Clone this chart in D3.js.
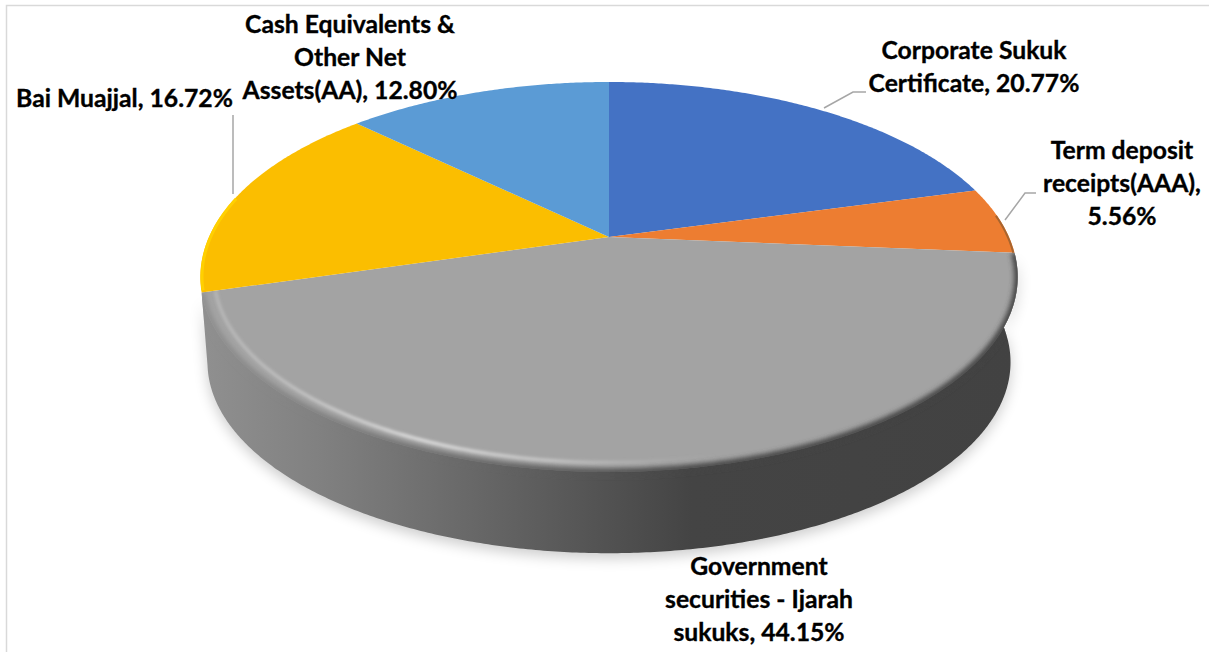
<!DOCTYPE html>
<html>
<head>
<meta charset="utf-8">
<script src="https://cdn.jsdelivr.net/npm/d3@7"></script>
<style>
  html, body { margin: 0; padding: 0; background: #fff; }
  svg { display: block; }
  text { font-family: Lato, "Open Sans", sans-serif; font-weight: 700; font-size: 24.7px; fill: #000; stroke: #000; stroke-width: 0.35px; }
</style>
</head>
<body>
<svg id="chart" width="1209" height="652"></svg>
<script>
// Portfolio allocation, clockwise from twelve o'clock.
const categories = [
  "Corporate Sukuk Certificate",
  "Term deposit receipts(AAA)",
  "Government securities - Ijarah sukuks",
  "Bai Muajjal",
  "Cash Equivalents & Other Net Assets(AA)"
];
const shares = [20.77, 5.56, 44.15, 16.72, 12.80];
const colours = ["#4472C4", "#ED7D31", "#A3A3A3", "#FBBE00", "#5B9BD5"];

// Label wrapping and placement; one entry per category.
const labelLines = [
  ["Corporate Sukuk", "Certificate, 20.77%"],
  ["Term deposit", "receipts(AAA),", "5.56%"],
  ["Government", "securities - Ijarah", "sukuks, 44.15%"],
  ["Bai Muajjal, 16.72%"],
  ["Cash Equivalents &", "Other Net", "Assets(AA), 12.80%"]
];
const labelCentres = [[974, 59], [1122, 159], [759, 575], [124.5, 107], [350, 33]];
const labelStep = 33;
const leaders = [
  [[824, 108], [853, 92], [866, 92]],
  [[1005, 220], [1025, 193], [1036, 193]],
  null,
  [[233, 115], [233, 194]],
  null
];

const svg = d3.select("#chart");
const defs = svg.append("defs");

// Perspective tilt of the disc: far points shrink, near points grow.
const tilt = 0.205;
const topFace = { cx: 609, cy: 237, a: 400, b: 186.8 };
const baseFace = { cx: 609, cy: 323, a: 393, b: 183 };

function project(face, angle, r = 1) {
  const u = r * Math.sin(angle), v = r * Math.cos(angle);
  const w = 1 + tilt * v;
  return [face.cx + face.a * u / w, face.cy - face.b * v / w];
}
function arcPoints(face, a0, a1, r = 1) {
  const n = Math.max(2, Math.ceil(Math.abs(a1 - a0) * 120));
  return d3.range(n + 1).map(i => project(face, a0 + (a1 - a0) * i / n, r));
}
const line = d3.line();

const pie = d3.pie().sort(null).value(d => d);
const slices = pie(shares);
const gov = slices[2];
const centre = [topFace.cx, topFace.cy];

// Gradients and soft filters for the raised rim.
function gradient(id, stops) {
  const g = defs.append("linearGradient").attr("id", id)
    .attr("gradientUnits", "userSpaceOnUse")
    .attr("x1", 200).attr("x2", 1020).attr("y1", 0).attr("y2", 0);
  stops.forEach(([o, c, a]) => g.append("stop")
    .attr("offset", o).attr("stop-color", c).attr("stop-opacity", a === undefined ? 1 : a));
}
gradient("wallFill", [[0, "#909090"], [0.15, "#808080"], [0.3, "#6c6c6c"], [0.45, "#585858"], [0.6, "#444444"], [1, "#424242"]]);
gradient("glowFill", [[0, "#d4d4d4", 0.35], [0.12, "#d8d8d8", 0.55], [0.27, "#dedede", 0.95], [0.43, "#d8d8d8", 0.6], [0.58, "#c8c8c8", 0.1], [0.63, "#c8c8c8", 0]]);
function blur(id, dev) {
  defs.append("filter").attr("id", id)
    .attr("x", "-10%").attr("y", "-10%").attr("width", "120%").attr("height", "130%")
    .append("feGaussianBlur").attr("stdDeviation", dev);
}
blur("softShadow", 7);
blur("softEdge", 2.4);
blur("softGlow", 1.8);

// Chart frame.
svg.append("path")
  .attr("d", line([[6.5, 652], [6.5, 5.5], [1209, 5.5]]))
  .attr("fill", "none").attr("stroke", "#d9d9d9").attr("stroke-width", 1.5);

// Side wall of the large slice: upper rim forward, base edge back.
const wallOutline = arcPoints(topFace, gov.startAngle, gov.endAngle)
  .concat(arcPoints(baseFace, gov.endAngle + 0.06, gov.startAngle - 0.06));
const wedgeOutline = [centre].concat(arcPoints(topFace, gov.startAngle, gov.endAngle));

const bevelClip = defs.append("clipPath").attr("id", "bevelClip");
bevelClip.append("path").attr("d", line(wallOutline) + "Z");
bevelClip.append("path").attr("d", line(wedgeOutline) + "Z");

svg.append("path")
  .attr("d", line(wallOutline) + "Z")
  .attr("fill", "#000").attr("opacity", 0.2)
  .attr("transform", "translate(0,5)")
  .attr("filter", "url(#softShadow)");

svg.append("path")
  .attr("d", line(wallOutline) + "Z")
  .attr("fill", "url(#wallFill)");

// Top faces of all slices, one wedge per value.
svg.append("g").selectAll("path")
  .data(slices)
  .join("path")
  .attr("d", d => line([centre].concat(arcPoints(topFace, d.startAngle, d.endAngle))) + "Z")
  .attr("fill", (d, i) => colours[i]);

// Bevel along the front of the large slice: the wall colour bleeds up
// over the edge, with a soft highlight just inside it.
const bevel = svg.append("g").attr("clip-path", "url(#bevelClip)");
bevel.append("g").attr("filter", "url(#softEdge)")
  .append("path")
  .attr("d", line(arcPoints(topFace, gov.startAngle, gov.endAngle, 1.0)))
  .attr("fill", "none")
  .attr("stroke", "url(#wallFill)")
  .attr("stroke-width", 7);
bevel.append("g").attr("filter", "url(#softGlow)")
  .append("path")
  .attr("d", line(arcPoints(topFace, gov.startAngle, gov.endAngle, 0.968)))
  .attr("fill", "none")
  .attr("stroke", "url(#glowFill)")
  .attr("stroke-width", 3.5);

// Thin coloured edges on the back slices.
svg.append("path")
  .attr("d", line(arcPoints(topFace, slices[3].startAngle + 0.01, slices[3].startAngle + 0.5, 0.996)))
  .attr("fill", "none").attr("stroke", "#FFD000").attr("stroke-width", 3);
svg.append("path")
  .attr("d", line(arcPoints(topFace, slices[1].endAngle - 0.2, slices[1].endAngle, 0.997)))
  .attr("fill", "none").attr("stroke", "#A8652F").attr("stroke-width", 2);

// Leader lines.
svg.append("g").selectAll("path")
  .data(leaders.filter(Boolean))
  .join("path")
  .attr("d", d => line(d))
  .attr("fill", "none").attr("stroke", "#a6a6a6").attr("stroke-width", 1.5);

// Data labels.
svg.append("g").selectAll("text")
  .data(labelLines)
  .join("text")
  .attr("text-anchor", "middle")
  .attr("x", (d, i) => labelCentres[i][0])
  .attr("y", (d, i) => labelCentres[i][1])
  .selectAll("tspan")
  .data((d, i) => d.map(t => ({ t, x: labelCentres[i][0] })))
  .join("tspan")
  .attr("x", d => d.x)
  .attr("dy", (d, i) => i ? labelStep : 0)
  .text(d => d.t);
</script>
</body>
</html>
